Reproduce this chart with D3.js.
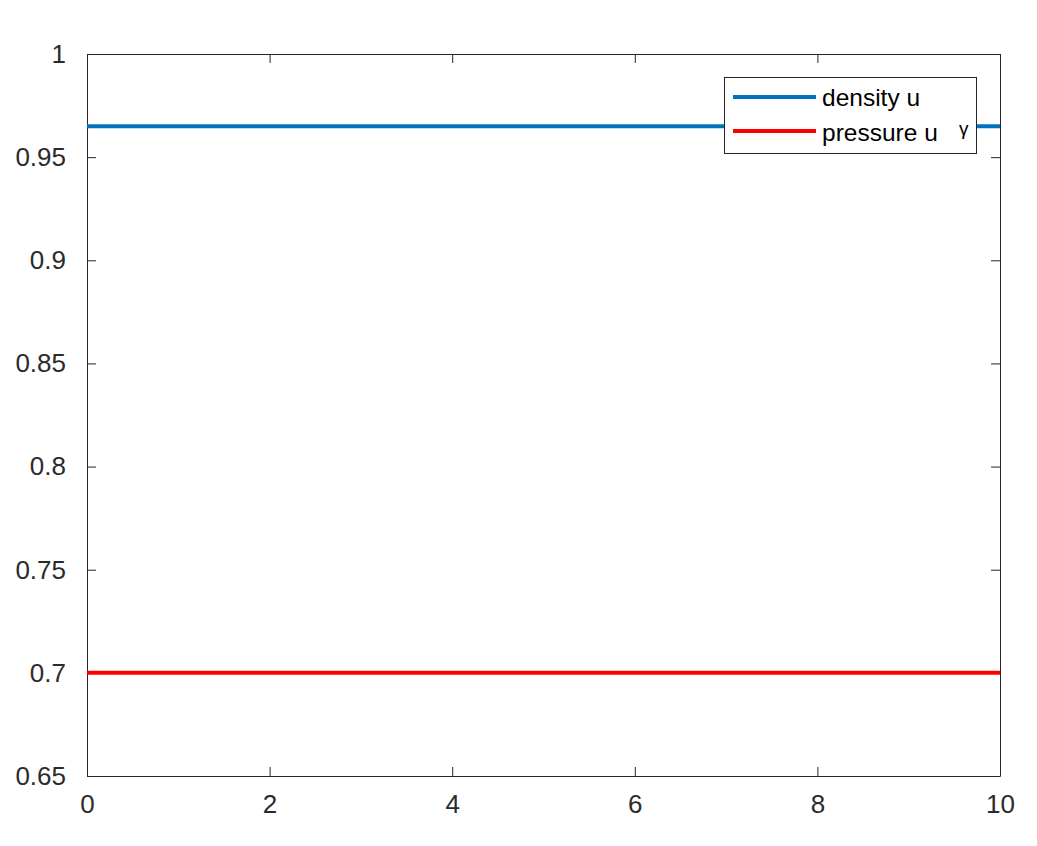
<!DOCTYPE html>
<html><head><meta charset="utf-8">
<script src="https://cdn.jsdelivr.net/npm/d3@7"></script>
<style>body{margin:0;background:#fff}svg{display:block}text{font-family:"Liberation Sans",Arial,sans-serif}</style>
</head><body>
<svg id="c" width="1037" height="846"></svg>
<script>
const timeValues = [0, 2, 4, 6, 8, 10];
const densityValues = [0.965, 0.965, 0.965, 0.965, 0.965, 0.965];
const pressureValues = [0.7, 0.7, 0.7, 0.7, 0.7, 0.7];
const xTicks = [0, 2, 4, 6, 8, 10];
const yTicks = [0.65, 0.7, 0.75, 0.8, 0.85, 0.9, 0.95, 1];
const seriesNames = ["density u", "pressure u"];
const seriesColors = ["#0072BD", "#FF0000"];

const svg = d3.select("#c");
const L = 87, R = 1000, T = 54, B = 776;
const x = d3.scaleLinear().domain([0, 10]).range([L, R]);
const y = d3.scaleLinear().domain([0.65, 1]).range([B, T]);
const axisColor = "#262626";
const tk = 9;

function styleAxis(g){
  g.select(".domain").attr("stroke", axisColor).attr("stroke-width", 1);
  g.selectAll(".tick line").attr("stroke", axisColor);
  g.selectAll(".tick text").attr("fill", "#2b2b2b").style("font-size", "26px");
}
const fmt = d => String(d);
svg.append("g").attr("transform", `translate(0,${B})`)
  .call(d3.axisBottom(x).tickValues(xTicks).tickFormat(fmt).tickSize(-tk).tickSizeOuter(0).tickPadding(19)).call(styleAxis);
svg.append("g").attr("transform", `translate(0,${T})`)
  .call(d3.axisTop(x).tickValues(xTicks).tickFormat("").tickSize(-tk).tickSizeOuter(0)).call(styleAxis);
svg.append("g").attr("transform", `translate(${L},0)`)
  .call(d3.axisLeft(y).tickValues(yTicks).tickFormat(fmt).tickSize(-tk).tickSizeOuter(0).tickPadding(21)).call(styleAxis);
svg.append("g").attr("transform", `translate(${R},0)`)
  .call(d3.axisRight(y).tickValues(yTicks).tickFormat("").tickSize(-tk).tickSizeOuter(0)).call(styleAxis);

const line = d3.line().x(d => x(d[0])).y(d => y(d[1]));
const series = [densityValues, pressureValues];
series.forEach((vals, i) => {
  svg.append("path").datum(timeValues.map((t, j) => [t, vals[j]]))
    .attr("d", line).attr("fill", "none").attr("stroke", seriesColors[i]).attr("stroke-width", 4);
});

// legend
const lg = svg.append("g");
lg.append("rect").attr("x", 724.5).attr("y", 77.5).attr("width", 252).attr("height", 76)
  .attr("fill", "#fff").attr("stroke", axisColor).attr("stroke-width", 1);
const rowsY = [97, 131];
const baseY = [106, 141];
seriesNames.forEach((n, i) => {
  lg.append("line").attr("x1", 733).attr("x2", 816).attr("y1", rowsY[i]).attr("y2", rowsY[i])
    .attr("stroke", seriesColors[i]).attr("stroke-width", 4);
  lg.append("text").attr("x", 822).attr("y", baseY[i]).attr("fill", "#000")
    .style("font-size", "24.5px").text(n);
});
lg.append("text").attr("x", 959).attr("y", 135).attr("fill", "#000").style("font-size", "19px").text("γ");
</script>
</body></html>
